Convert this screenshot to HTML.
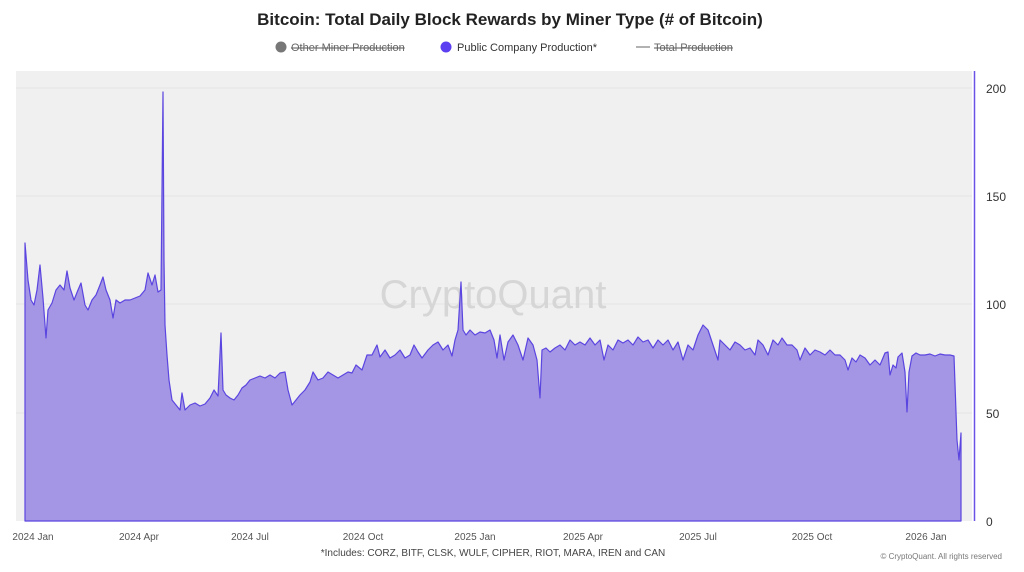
<!DOCTYPE html>
<html><head><style>
body{margin:0;background:#fff;width:1024px;height:567px;overflow:hidden;font-family:"Liberation Sans",sans-serif;}
</style></head><body>
<svg width="1024" height="567" xmlns="http://www.w3.org/2000/svg" font-family="Liberation Sans, sans-serif">
<text x="510" y="25" text-anchor="middle" font-size="17" font-weight="bold" fill="#222">Bitcoin: Total Daily Block Rewards by Miner Type (# of Bitcoin)</text>
<circle cx="281" cy="47" r="5.5" fill="#777"/>
<text x="291" y="51" font-size="11" fill="#666" text-decoration="line-through">Other Miner Production</text>
<circle cx="446" cy="47" r="5.5" fill="#5b3ff0"/>
<text x="457" y="51" font-size="11" fill="#333">Public Company Production*</text>
<line x1="636" y1="47" x2="650" y2="47" stroke="#666" stroke-width="1"/>
<text x="654" y="51" font-size="11" fill="#666" text-decoration="line-through">Total Production</text>
<rect x="16" y="71" width="956" height="450" fill="#f0f0f0"/>
<g stroke="#e4e4e4" stroke-width="1">
<line x1="16" y1="88" x2="972" y2="88"/><line x1="16" y1="196" x2="972" y2="196"/><line x1="16" y1="304" x2="972" y2="304"/><line x1="16" y1="413" x2="972" y2="413"/>
</g>
<text x="493" y="308" text-anchor="middle" font-size="40" fill="#d6d6d6">CryptoQuant</text>
<polygon fill="#a294e3" fill-opacity="0.98" stroke="#5a45e0" stroke-width="1.2" stroke-linejoin="round" points="25,521 25,243 28,280 31,300 34,305 37,290 40,265 43,298 46,338 48,310 52,303 56,290 60,285 64,290 67,271 70,288 74,300 78,290 81,283 85,305 88,310 92,300 96,295 100,285 103,277 106,290 110,300 113,318 116,300 120,303 125,300 130,300 135,298 140,296 145,290 148,273 152,285 155,275 158,292 161,290 163,92 164,260 165,325 167,355 169,380 172,400 176,405 180,410 182,393 185,410 190,405 195,403 200,406 205,404 210,398 214,390 218,396 221,333 223,390 226,395 230,398 234,400 238,395 242,388 246,385 250,380 255,378 260,376 265,378 270,375 275,378 280,373 285,372 288,390 292,405 296,400 300,395 305,390 310,382 313,372 318,380 323,378 328,372 333,375 338,378 343,375 348,372 352,373 356,365 362,370 367,355 372,355 377,345 380,357 385,350 390,358 395,355 400,350 405,358 410,355 414,345 418,352 422,358 428,350 433,345 438,342 443,350 448,345 452,356 455,340 458,330 461,282 463,330 466,335 470,330 475,335 480,332 485,333 490,330 494,340 497,358 500,335 504,360 508,342 513,335 518,345 523,360 528,338 533,345 537,360 540,398 542,350 546,348 550,352 555,348 560,345 565,350 570,340 575,345 580,342 585,345 590,338 595,345 600,340 604,360 608,345 613,350 618,340 623,343 628,340 633,345 638,337 643,342 648,340 653,348 658,340 663,345 668,340 673,350 678,342 683,360 688,345 693,350 698,335 703,325 708,330 713,345 718,360 720,340 725,345 730,350 735,342 740,345 745,350 750,348 755,355 758,340 763,345 768,355 773,340 778,345 782,338 787,345 792,345 797,350 800,360 805,348 810,355 815,350 820,352 825,355 830,350 835,355 840,355 845,360 848,370 852,358 856,362 860,355 865,358 870,365 875,360 880,365 885,353 888,352 890,375 893,365 896,368 898,357 902,353 905,372 907,412 909,372 912,356 916,353 920,355 925,355 930,354 935,356 940,354 945,355 950,355 954,356 957,440 959,460 961,433 961,521"/>
<line x1="974.5" y1="71" x2="974.5" y2="521" stroke="#6a52e6" stroke-width="1.5"/>
<g font-size="12" fill="#333">
<text x="986" y="93">200</text><text x="986" y="201">150</text><text x="986" y="309">100</text><text x="986" y="418">50</text><text x="986" y="526">0</text>
</g>
<g font-size="10" fill="#555" text-anchor="middle">
<text x="33" y="540">2024 Jan</text><text x="139" y="540">2024 Apr</text><text x="250" y="540">2024 Jul</text><text x="363" y="540">2024 Oct</text><text x="475" y="540">2025 Jan</text><text x="583" y="540">2025 Apr</text><text x="698" y="540">2025 Jul</text><text x="812" y="540">2025 Oct</text><text x="926" y="540">2026 Jan</text>
</g>
<text x="493" y="556" text-anchor="middle" font-size="10" fill="#444">*Includes: CORZ, BITF, CLSK, WULF, CIPHER, RIOT, MARA, IREN and CAN</text>
<text x="1002" y="559" text-anchor="end" font-size="8" fill="#777">© CryptoQuant. All rights reserved</text>
</svg>
</body></html>
